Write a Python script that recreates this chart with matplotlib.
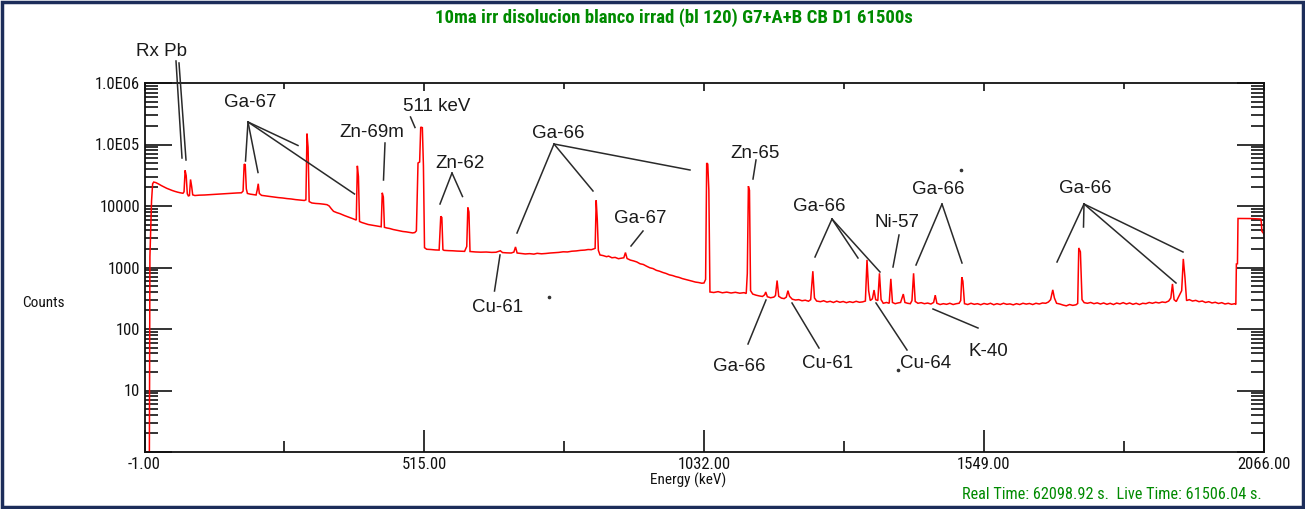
import numpy as np
import matplotlib
matplotlib.use("Agg")
import matplotlib.pyplot as plt
from matplotlib import font_manager
from matplotlib.font_manager import FontProperties
from matplotlib.ticker import FixedLocator, FixedFormatter, LogLocator, NullFormatter
from matplotlib.transforms import Affine2D
from matplotlib.lines import Line2D
from matplotlib.patches import Rectangle

# ---------------------------------------------------------------- spectrum data
# low-energy part: X-rays, Ga-67 lines, annihilation peak, Zn-62
e_low = [0, 8, 9, 10, 12, 14, 16, 20, 25, 30, 35, 40, 45, 50, 55, 60, 65, 70, 72,
         74, 76, 78, 80, 82, 84, 86, 88, 92, 100, 110, 120, 130, 140, 150, 160,
         170, 178, 181, 183, 185, 187, 189, 194, 200, 205, 207, 209, 211, 215,
         222, 230, 238, 246, 254, 262, 270, 278, 286, 294, 297, 299, 301, 303,
         308, 315, 322, 330, 336, 340, 344, 348, 354, 360, 368, 376, 384, 390,
         392, 394, 396, 400, 406, 412, 418, 424, 430, 436, 438, 440, 442, 446,
         452, 458, 464, 470, 476, 482, 488, 494, 498, 501, 504, 507, 509, 512,
         514, 516, 520, 528, 536, 543, 546, 548, 550, 552, 560, 568, 576, 584,
         590, 594, 596, 598]
c_low = [1, 1, 1500, 3000, 12000, 23000, 24500, 24000, 22800, 21500, 20400, 19400,
         18600, 17900, 17300, 16800, 16400, 16100, 17000, 38000, 31000, 15800,
         14600, 14800, 27000, 21000, 15200, 14800, 15000, 15100, 15300, 15500,
         15700, 15900, 16100, 16300, 16400, 17500, 48000, 47000, 19000, 16000,
         15600, 15300, 15100, 18000, 23000, 16000, 14900, 14600, 14300, 14000,
         13700, 13500, 13200, 13000, 12700, 12500, 12300, 12600, 150000, 90000,
         11800, 11200, 11000, 10900, 10700, 10500, 10000, 9000, 8200, 7800, 7500,
         7000, 6600, 6200, 5900, 45000, 30000, 5600, 5400, 5200, 5000, 4900, 4800,
         4700, 4600, 16400, 14000, 4500, 4400, 4300, 4150, 4050, 3950, 3850, 3800,
         3720, 3650, 3700, 3950, 50000, 52000, 192000, 188000, 45000, 2100, 1980,
         1960, 1930, 1920, 6800, 6500, 1950, 1900, 1880, 1870, 1850, 1840, 1830,
         2200, 9450, 8000]

# middle part: Ga-66 833 keV, Ga-67 888 keV, Ga-66 1039 keV
e_mid = [600, 610, 620, 630, 640, 648, 652, 656, 660, 668, 676, 681, 684, 687, 694,
         702, 710, 718, 724, 732, 740, 748, 756, 764, 772, 780, 788, 796, 804, 812,
         818, 824, 828, 831, 833, 835, 837, 840, 846, 852, 856, 862, 868, 874, 880,
         884, 887, 890, 896, 902, 908, 914, 920, 926, 932, 938, 944, 950, 956, 962,
         968, 974, 980, 986, 992, 998, 1004, 1010, 1016, 1022, 1028, 1032, 1035,
         1037, 1039, 1041]
c_mid = [1820, 1790, 1775, 1785, 1760, 1770, 1820, 1870, 1750, 1730, 1720, 1780,
         2160, 1720, 1690, 1660, 1680, 1650, 1700, 1670, 1690, 1720, 1740, 1760,
         1800, 1790, 1840, 1860, 1900, 1920, 1960, 1950, 2000, 2050, 12400, 6000,
         1900, 1600, 1560, 1500, 1530, 1440, 1460, 1390, 1420, 1440, 1750, 1400,
         1320, 1280, 1230, 1150, 1120, 1050, 990, 960, 900, 870, 830, 800, 760, 740,
         710, 690, 660, 640, 620, 600, 580, 570, 555, 560, 640, 50000, 48000, 18000]

# high-energy part: Zn-65, Ga-66 lines, Cu-61, Cu-64, Ni-57, K-40
e_high = [1043, 1050, 1058, 1066, 1074, 1082, 1090, 1098, 1106, 1110, 1112, 1114,
          1116, 1118, 1122, 1128, 1134, 1140, 1144, 1146, 1149, 1155, 1161, 1164,
          1167, 1170, 1175, 1180, 1184, 1187, 1190, 1195, 1201, 1207, 1213, 1219,
          1225, 1229, 1233, 1236, 1240, 1247, 1253, 1259, 1265, 1271, 1277, 1283,
          1289, 1295, 1301, 1307, 1313, 1319, 1325, 1330, 1333, 1336, 1339, 1343,
          1346, 1349, 1353, 1356, 1359, 1363, 1369, 1374, 1377, 1380, 1385, 1390,
          1395, 1400, 1403, 1408, 1413, 1416, 1419, 1422, 1427, 1433, 1439, 1445,
          1451, 1456, 1459, 1462, 1468, 1474, 1480, 1486, 1492, 1498, 1503, 1506,
          1508, 1510, 1513, 1519, 1525, 1531, 1537, 1543, 1549, 1555, 1561, 1567,
          1573, 1579, 1585, 1591, 1597, 1603, 1609, 1615, 1621, 1627, 1633, 1639,
          1645, 1651, 1657, 1663, 1668, 1672, 1676, 1679, 1683, 1689, 1695, 1701,
          1707, 1713, 1719, 1722, 1724, 1727, 1730, 1734, 1740, 1746, 1752, 1758,
          1764, 1770, 1776, 1782, 1788, 1794, 1800, 1806, 1812, 1818, 1824, 1830,
          1836, 1842, 1848, 1854, 1860, 1866, 1872, 1878, 1884, 1890, 1894, 1897,
          1900, 1904, 1908, 1911, 1914, 1917, 1920, 1923, 1928, 1934, 1940, 1946,
          1952, 1958, 1964, 1970, 1976, 1982, 1988, 1994, 2000, 2006, 2012, 2014,
          2015, 2017, 2018, 2040, 2060, 2061, 2062, 2066]
c_high = [400, 392, 405, 388, 398, 385, 395, 382, 390, 378, 800, 21000, 18000, 420,
          370, 355, 345, 338, 360, 400, 335, 322, 330, 350, 614, 340, 318, 312, 330,
          420, 340, 305, 296, 300, 288, 294, 283, 300, 870, 320, 285, 278, 288, 274,
          282, 270, 284, 272, 280, 268, 278, 270, 282, 272, 276, 285, 1330, 420,
          290, 310, 430, 300, 290, 805, 300, 262, 270, 262, 654, 270, 258, 265, 270,
          370, 270, 262, 258, 290, 805, 280, 262, 268, 258, 264, 255, 270, 355, 262,
          250, 258, 252, 262, 250, 258, 262, 290, 694, 600, 258, 250, 262, 252, 258,
          248, 260, 252, 262, 248, 258, 250, 262, 252, 256, 247, 258, 250, 262, 254,
          260, 250, 262, 255, 265, 262, 275, 300, 433, 320, 262, 255, 245, 238, 250,
          242, 248, 260, 2080, 1800, 300, 268, 262, 270, 258, 266, 255, 265, 252,
          262, 250, 264, 256, 268, 255, 265, 252, 262, 250, 262, 258, 270, 262, 272,
          265, 275, 270, 285, 320, 541, 300, 280, 330, 370, 420, 1380, 700, 290, 300,
          285, 292, 278, 285, 270, 278, 265, 272, 260, 268, 255, 262, 252, 258, 250,
          1140, 1150, 6270, 6250, 6150, 5500, 3900, 3500]

# axis ticks
x_major = [-1.00, 515.00, 1032.00, 1549.00, 2066.00]
x_minor = [257.0, 773.5, 1290.5, 1807.5]
y_major = [1, 10, 100, 1000, 10000, 100000, 1000000]
y_labels = ["", "10", "100", "1000", "10000", "1.0E05", "1.0E06"]

title = "10ma irr disolucion blanco irrad (bl 120) G7+A+B CB D1 61500s"
footer = "Real Time: 62098.92 s.  Live Time: 61506.04 s."


# ---------------------------------------------------------------- fonts
def narrow_font(bold=False):
    """Return a condensed sans font file if one is installed, else None."""
    prefs = ["LiberationSansNarrow", "ArialNarrow", "RobotoCondensed",
             "DejaVuSansCondensed", "OpenSansCondensed", "OpenSans_Condensed"]
    files = font_manager.findSystemFonts()
    for key in prefs:
        for f in sorted(files):
            base = f.split("/")[-1].replace("-", "").replace(" ", "")
            if key.lower() not in base.lower():
                continue
            is_bold = "bold" in base.lower()
            is_italic = "italic" in base.lower() or "oblique" in base.lower()
            if is_italic or is_bold != bold:
                continue
            if not bold and any(w in base.lower() for w in ("light", "thin", "medium", "black")):
                continue
            return f
    return None


reg_file = narrow_font(False)
bold_file = narrow_font(True)
if reg_file:
    TICK_FP = FontProperties(fname=reg_file, size=12)
    SMALL_FP = FontProperties(fname=reg_file, size=11)
    FOOT_FP = FontProperties(fname=reg_file, size=11.7)
else:
    TICK_FP = FontProperties(family="Liberation Sans", size=10.3)
    SMALL_FP = FontProperties(family="Liberation Sans", size=10)
    FOOT_FP = FontProperties(family="Liberation Sans", size=10.1)
if bold_file:
    TITLE_FP = FontProperties(fname=bold_file, size=13.5)
else:
    TITLE_FP = FontProperties(family="Liberation Sans", weight="bold", size=11.5)

SANS = "Liberation Sans"
GREEN = "#008a00"
INK = "#111111"

# ---------------------------------------------------------------- figure
W, H, DPI = 1305, 509, 100
fig = plt.figure(figsize=(W / DPI, H / DPI), dpi=DPI, facecolor="white")
px = Affine2D().scale(1.0 / W, -1.0 / H).translate(0, 1) + fig.transFigure

L, R, T, B = 144.5, 1264.0, 83.0, 452.0
ax = fig.add_axes([L / W, (H - B) / H, (R - L) / W, (B - T) / H])

energy = np.array(e_low + e_mid + e_high, dtype=float)
counts = np.array(c_low + c_mid + c_high, dtype=float)
ax.plot(energy, counts, color="#ff0000", lw=1.1, solid_joinstyle="miter")

ax.set_xlim(-1, 2066)
ax.set_yscale("log")
ax.set_ylim(1, 1e6)

for s in ax.spines.values():
    s.set_linewidth(1.3)
    s.set_color(INK)

ax.xaxis.set_major_locator(FixedLocator(x_major))
ax.xaxis.set_major_formatter(FixedFormatter([f"{v:.2f}" for v in x_major]))
ax.xaxis.set_minor_locator(FixedLocator(x_minor))
ax.tick_params(axis="x", which="major", direction="in", length=16, width=1.2,
               top=False, bottom=True, pad=3.5, color=INK)
ax.tick_params(axis="x", which="minor", direction="in", length=8, width=1.2,
               top=False, bottom=True, color=INK)

ax.yaxis.set_major_locator(FixedLocator(y_major))
ax.yaxis.set_major_formatter(FixedFormatter(y_labels))
ax.yaxis.set_minor_locator(LogLocator(base=10, subs=np.arange(2, 10), numticks=20))
ax.yaxis.set_minor_formatter(NullFormatter())
ax.tick_params(axis="y", which="major", direction="in", length=19.5, width=1.2,
               left=True, right=True, pad=3, color=INK)
ax.tick_params(axis="y", which="minor", direction="in", length=9.5, width=1.2,
               left=True, right=True, color=INK)
for lab in ax.get_xticklabels() + ax.get_yticklabels():
    lab.set_fontproperties(TICK_FP)
    lab.set_color(INK)

# short ticks along the top edge
top = ax.secondary_xaxis("top")
top.xaxis.set_major_locator(FixedLocator(x_major))
top.xaxis.set_minor_locator(FixedLocator(x_minor))
top.xaxis.set_major_formatter(NullFormatter())
top.tick_params(axis="x", which="major", direction="in", length=6, width=1.2, color=INK)
top.tick_params(axis="x", which="minor", direction="in", length=4.5, width=1.2, color=INK)
top.spines["top"].set_visible(False)

# axis titles
fig.text(43, 303, "Counts", transform=px, ha="center", va="center",
         fontproperties=SMALL_FP, color=INK)
fig.text(688, 480, "Energy (keV)", transform=px, ha="center", va="center",
         fontproperties=SMALL_FP, color=INK)

# title and acquisition times
fig.text(674, 18, title, transform=px, ha="center", va="center",
         fontproperties=TITLE_FP, color=GREEN)
fig.text(1262, 495, footer, transform=px, ha="right", va="center",
         fontproperties=FOOT_FP, color=GREEN)

# nuclide labels with leader lines (positions in pixels, label centre)
labels = [
    ("Rx Pb", (162, 49), [((176, 61), (182, 158)), ((179, 63), (186, 160))]),
    ("Ga-67", (250, 100), [((248, 122), (245.5, 161)), ((248, 122), (258, 172.5)),
                           ((248, 122), (298, 145.5)), ((248, 122), (354.5, 194))]),
    ("Zn-69m", (372, 130), [((385, 143), (383.5, 180))]),
    ("511 keV", (437, 104), [((410.5, 117), (415, 127.5))]),
    ("Zn-62", (460, 161), [((452, 173), (440, 204)), ((452, 173), (462.5, 196.5))]),
    ("Ga-66", (558, 131), [((554, 144), (517, 233)), ((554, 144), (593, 191)),
                           ((554, 144), (690, 170))]),
    ("Ga-67", (640, 216), [((643, 231), (631, 246))]),
    ("Zn-65", (755, 151), [((756, 160), (753, 179))]),
    ("Cu-61", (498, 305), [((500, 255), (494.5, 291))]),
    ("Ga-66", (819, 204), [((832, 219), (815, 257)), ((832, 219), (858, 258)),
                           ((832, 219), (880, 272))]),
    ("Ni-57", (897, 220), [((899, 235), (893, 267))]),
    ("Ga-66", (938, 187), [((942, 204), (916, 265)), ((942, 204), (962, 263))]),
    ("Ga-66", (739, 364), [((748, 344), (766, 300))]),
    ("Cu-61", (828, 361), [((819, 348), (792, 303))]),
    ("Cu-64", (926, 361), [((907, 350), (876, 303))]),
    ("K-40", (988, 349), [((978, 328), (933, 309))]),
    ("Ga-66", (1085, 186), [((1084, 204), (1057, 262)), ((1084, 204), (1083.5, 227)),
                            ((1084, 204), (1176, 283)), ((1084, 204), (1183, 252))]),
]
for text, (tx, ty), segs in labels:
    fig.text(tx, ty + 7, text, transform=px, ha="center", va="baseline",
             fontsize=13.5, family=SANS, color="#1a1a1a")
    for (x0, y0), (x1, y1) in segs:
        fig.add_artist(Line2D([x0, x1], [y0, y1], transform=px,
                              color="#2a2a2a", lw=1.1))

# small stray specks on the plot
for sx, sy in [(549, 297), (961, 170), (898, 370)]:
    fig.add_artist(Line2D([sx], [sy], transform=px, marker="o", ms=1.6,
                          color="#333333", lw=0))

# window frame
fig.add_artist(Rectangle((0.0015, 0.004), 0.997, 0.992, transform=fig.transFigure,
                         fill=False, edgecolor="#1c2d5a", lw=2.5))

fig.savefig("out.png", dpi=DPI, facecolor="white")
